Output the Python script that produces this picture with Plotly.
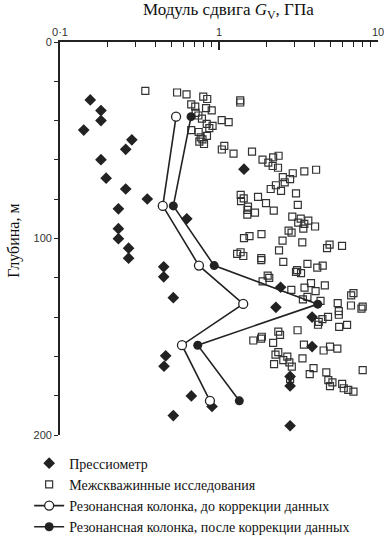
import plotly.graph_objects as go

# ---- Data ----
press_x = [0.155, 0.181, 0.181, 0.141, 0.283, 0.259, 0.181, 0.195, 0.259, 0.354,
           0.233, 0.627, 0.233, 0.233, 0.270, 0.270, 0.449, 0.449, 2.44, 0.516,
           2.28, 3.85, 3.85, 0.462, 0.451, 2.80, 2.80, 0.670, 0.904, 0.516,
           2.80, 1.436]
press_y = [29.5, 34.9, 40.0, 44.8, 49.8, 54.6, 59.9, 69.3, 74.8, 79.9,
           84.9, 90.0, 95.0, 100.1, 104.9, 110.0, 114.4, 119.5, 124.8, 130.1,
           135.0, 140.0, 155.0, 159.7, 165.0, 170.2, 175.0, 180.1, 185.5, 190.1,
           195.3, 64.7]

cross_x = [0.344, 0.545, 0.625, 0.796, 0.843, 1.36, 1.36, 0.669, 0.709, 0.829,
           0.900, 0.713, 0.742, 0.781, 1.04, 1.15, 0.837, 0.911, 0.869, 0.669,
           0.745, 0.840, 0.767, 0.787, 0.752, 0.805, 1.08, 1.042, 1.234, 1.613,
           1.878, 2.042, 2.19, 2.37, 2.176, 2.35, 3.44, 4.08, 2.91, 2.52,
           2.80, 2.59, 2.28, 2.114, 2.455, 3.05, 1.369, 1.43, 1.76, 1.376,
           1.975, 3.13, 1.522, 1.51, 1.684, 1.507, 2.21, 2.89, 3.265, 3.645,
           3.15, 3.44, 4.02, 3.39, 2.74, 2.86, 1.85, 1.555, 1.436, 2.51,
           3.34, 4.96, 4.78, 5.94, 1.367, 1.30, 1.422, 2.385, 1.845, 1.845,
           2.537, 3.60, 4.15, 4.49, 3.10, 3.05, 3.28, 2.024, 2.07, 1.88,
           3.79, 4.63, 3.45, 2.85, 4.05, 3.60, 3.37, 4.35, 5.58, 6.78,
           7.01, 6.76, 7.87, 8.01, 5.67, 5.67, 4.85, 4.47, 4.24, 4.195,
           5.70, 6.39, 3.12, 2.36, 2.42, 1.86, 1.84, 1.643, 2.19, 3.42,
           4.99, 4.55, 5.55, 2.36, 2.266, 2.69, 2.537, 2.77, 2.22, 2.87,
           3.35, 3.93, 3.72, 4.73, 8.01, 2.80, 4.87, 5.17, 4.99, 5.95,
           6.09, 6.50, 7.01]
cross_y = [24.9, 25.7, 26.7, 27.8, 29.0, 29.7, 30.8, 31.7, 32.9, 33.7,
           34.8, 36.1, 37.4, 39.0, 39.8, 40.8, 41.7, 42.7, 43.8, 44.8,
           45.8, 47.8, 48.5, 49.6, 50.7, 51.9, 52.9, 54.7, 56.8, 55.8,
           59.9, 61.4, 58.7, 57.9, 63.1, 64.0, 65.8, 65.0, 66.8, 68.8,
           69.8, 71.4, 72.9, 74.8, 75.8, 77.0, 77.8, 79.6, 78.8, 81.0,
           82.0, 82.9, 83.8, 85.4, 86.8, 87.9, 85.8, 88.9, 89.9, 90.9,
           91.9, 92.6, 93.9, 95.0, 96.0, 97.0, 97.8, 98.8, 99.8, 101.1,
           102.0, 103.1, 104.9, 103.8, 107.0, 107.8, 108.9, 106.0, 110.0, 111.0,
           111.9, 112.9, 114.8, 113.8, 116.1, 117.0, 117.6, 118.9, 120.0, 121.8,
           122.7, 123.9, 125.0, 126.1, 126.8, 129.7, 131.0, 131.7, 132.9, 128.9,
           127.8, 134.1, 135.7, 134.7, 137.0, 138.8, 139.9, 141.0, 142.4, 143.9,
           145.0, 144.0, 146.7, 147.4, 149.0, 150.0, 151.0, 151.9, 153.1, 154.0,
           155.0, 157.0, 156.0, 157.8, 159.1, 160.1, 161.9, 163.0, 163.9, 165.2,
           161.0, 166.0, 169.0, 168.1, 167.0, 171.4, 172.1, 173.2, 175.1, 174.0,
           176.2, 177.0, 177.9]

rc_before_x = [0.537, 0.443, 0.748, 1.42, 0.585, 0.877]
rc_before_y = [38.0, 83.4, 113.8, 133.3, 154.3, 182.6]
rc_after_x = [0.667, 0.516, 0.933, 4.18, 0.735, 1.342]
rc_after_y = [38.0, 83.4, 113.8, 133.4, 154.3, 182.6]

x_tickvals = [0.1, 1, 10]
x_ticktext = ["0·1", "1", "10"]
x_minor = [0.2, 0.3, 0.4, 0.5, 0.6, 0.7, 0.8, 0.9, 2, 3, 4, 5, 6, 7, 8, 9]
y_tickvals = [0, 100, 200]
y_minor = [20, 40, 60, 80, 120, 140, 160, 180]

names = ["Прессиометр", "Межскважинные исследования",
         "Резонансная колонка, до коррекции данных",
         "Резонансная колонка, после коррекции данных"]

INK = "#222222"
SERIF = "Liberation Serif, Times New Roman, serif"

fig = go.Figure()
fig.add_trace(go.Scatter(
    x=cross_x, y=cross_y, mode="markers", name=names[1], legendrank=2,
    marker=dict(symbol="square-open", size=7, color="#333333", line=dict(width=1.2)),
))
fig.add_trace(go.Scatter(
    x=press_x, y=press_y, mode="markers", name=names[0], legendrank=1,
    marker=dict(symbol="diamond", size=9, color=INK),
))
fig.add_trace(go.Scatter(
    x=rc_before_x, y=rc_before_y, mode="lines+markers", name=names[2], legendrank=3,
    line=dict(color=INK, width=1.6),
    marker=dict(symbol="circle", size=9, color="white", line=dict(color=INK, width=1.3)),
))
fig.add_trace(go.Scatter(
    x=rc_after_x, y=rc_after_y, mode="lines+markers", name=names[3], legendrank=4,
    line=dict(color=INK, width=1.6),
    marker=dict(symbol="circle", size=9, color=INK),
))

fig.update_layout(
    width=390, height=546,
    margin=dict(l=60, r=12, t=42, b=111, autoexpand=False),
    paper_bgcolor="white", plot_bgcolor="white",
    font=dict(family="Liberation Sans, Arial, sans-serif", color="#333333", size=11),
    showlegend=True,
    legend=dict(
        x=-0.097, y=-0.032, xanchor="left", yanchor="top",
        font=dict(family=SERIF, size=14, color="#111111"),
        bgcolor="rgba(0,0,0,0)", itemwidth=30,
    ),
    xaxis=dict(
        type="log", side="top", range=[-1, 1], automargin=False,
        tickmode="array", tickvals=x_tickvals, ticktext=x_ticktext,
        ticks="inside", ticklen=8, tickwidth=1.5, tickcolor=INK,
        minor=dict(tickmode="array", tickvals=x_minor, ticks="inside", ticklen=5,
                   tickwidth=1.3, tickcolor=INK, showgrid=False),
        showline=True, linecolor=INK, linewidth=1.8,
        showgrid=False, zeroline=False,
        tickfont=dict(size=11, color="#333333"),
    ),
    yaxis=dict(
        range=[200, 0], automargin=False,
        tickmode="array", tickvals=y_tickvals,
        ticks="outside", ticklen=4, tickwidth=1.2, tickcolor=INK,
        minor=dict(tickmode="array", tickvals=y_minor, ticks="outside", ticklen=4,
                   tickwidth=1.2, tickcolor=INK, showgrid=False),
        showline=True, linecolor=INK, linewidth=1.8,
        showgrid=False, zeroline=False,
        tickfont=dict(size=11, color="#333333"),
    ),
    annotations=[
        dict(text="Модуль сдвига <i>G</i><sub>V</sub>, ГПа", xref="paper", yref="paper",
             x=0.53, y=1.078, xanchor="center", yanchor="middle", showarrow=False,
             font=dict(family=SERIF, size=17, color="#111111")),
        dict(text="Глубина, м", xref="paper", yref="paper", textangle=-90,
             x=-0.143, y=0.493, xanchor="center", yanchor="middle", showarrow=False,
             font=dict(family=SERIF, size=16, color="#111111")),
    ],
)

# remove the browser's default 8px page margin so the figure sits at (0, 0)
fig.write_html("out.html", config={"displayModeBar": False},
               post_script="document.body.style.margin='0';")
